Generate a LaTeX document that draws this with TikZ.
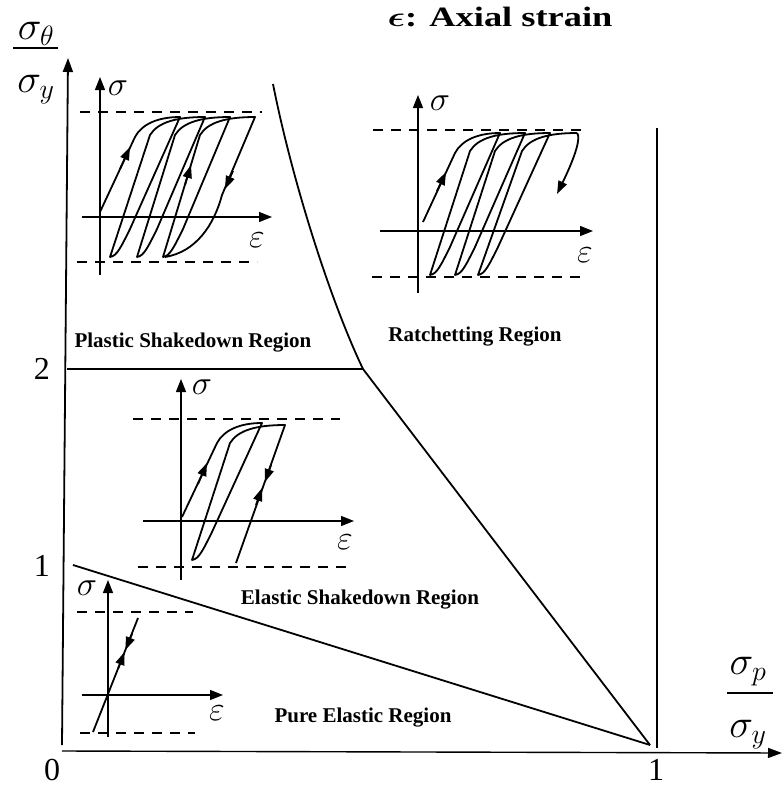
\documentclass[tikz,border=0pt]{standalone}
\usepackage{fix-cm}
\usepackage{amsmath}
\usepackage{fontspec}
\setmainfont{Liberation Serif}
\usetikzlibrary{arrows.meta}

% one loading / unloading branch of a hysteresis loop, ending at the given point
\newcommand{\loadto}[2]{-- (#1-55,#2+18) .. controls (#1-47,#2+5) and (#1-28,#2) .. (#1,#2)}
\newcommand{\unloadto}[2]{-- (#1+20,#2-28) .. controls (#1+11,#2-10) and (#1+7,#2-1) .. (#1,#2)}

\begin{document}
\begin{tikzpicture}[x=1pt, y=-1pt,
  bound/.style={line width=1.8pt},
  axis/.style={line width=1.2pt, -{Triangle[length=13pt,width=10pt]}},
  limit/.style={line width=1.6pt, dash pattern=on 10pt off 8pt},
  loop/.style={line width=1.8pt, line join=round},
  headarr/.style={line width=1.8pt, -{Triangle[length=13pt,width=9pt]}},
  region/.style={font=\fontsize{21}{24}\selectfont\bfseries},
  num/.style={font=\fontsize{32}{34}\selectfont},
  sym/.style={font=\fontsize{34}{36}\selectfont},
  big/.style={font=\fontsize{40}{44}\selectfont},
]
  \useasboundingbox (0,0) rectangle (782,788);

  % Main axes
  \draw[line width=1.8pt, -{Triangle[length=14pt,width=10pt]}] (62,745) -- (68,58);
  \draw[line width=1.4pt, -{Triangle[length=14pt,width=10pt]}] (62,751) -- (782,753);

  % Region boundaries
  \coordinate (top) at (273,84);
  \coordinate (knee) at (363,369);
  \coordinate (apex) at (650,745);
  \coordinate (one) at (73,565);
  \draw[bound] (top) .. controls (292,180) and (330,300) .. (knee) -- (apex);
  \draw[bound] (67,369) -- (knee);
  \draw[bound] (one) -- (apex);
  \draw[bound] (657,128) -- (657,748);

  % Tick labels
  \node[num] (x0) at (52,770) {0};
  \node[num] (x1) at (656,770) {1};
  \node[num] (y1) at (42,566) {1};
  \node[num] (y2) at (42,369) {2};

  % Axis labels
  \node[big] (sth) at (36,34) {$\sigma_\theta$};
  \node[big] (syl) at (36,90) {$\sigma_y$};
  \draw[line width=1.2pt] (13,48) -- (58,48);
  \node[big] (sp) at (748,672) {$\sigma_p$};
  \node[big] (syr) at (748,735) {$\sigma_y$};
  \draw[line width=1.2pt] (727,693) -- (773,693);
  \node[font=\fontsize{28}{30}\selectfont\bfseries] (title) at (500,17)
    {\scalebox{1.3}[1]{$\boldsymbol{\epsilon}$: Axial strain}};

  % Region names
  \node[region] (plastic) at (193,343) {Plastic Shakedown Region};
  \node[region] (ratchet) at (475,337) {Ratchetting Region};
  \node[region] (elastic) at (360,600) {Elastic Shakedown Region};
  \node[region] (pure) at (363,718) {Pure Elastic Region};

  % Inset: plastic shakedown
  \draw[limit] (80,112) -- (262,112);
  \draw[limit] (77,262) -- (257,262);
  \draw[axis] (100,275) -- (100,77);
  \draw[axis] (82,217) -- (272,217);
  \node[sym] (ps) at (118,88) {$\sigma$};
  \node[sym] (pe) at (257,240) {$\varepsilon$};
  \draw[loop] (100,212) -- (135,137) .. controls (142,124) and (158,117) .. (180,117)
    \unloadto{110}{257} \loadto{205}{117} \unloadto{137}{257}
    \loadto{230}{117} \unloadto{163}{257} \loadto{255}{117} -- (222,195) .. controls (214,225) and (196,252) .. (165,257);
  \draw[headarr] (233,171) -- (225,189);
  \draw[headarr] (120,169) -- (130,147);
  \draw[headarr] (185,185) -- (191,165);

  % Inset: ratchetting
  \draw[limit] (373,130) -- (587,130);
  \draw[limit] (372,277) -- (585,277);
  \draw[axis] (418,293) -- (418,95);
  \draw[axis] (380,231) -- (593,231);
  \node[sym] (rs) at (440,103) {$\sigma$};
  \node[sym] (re) at (585,255) {$\varepsilon$};
  \draw[loop] (423,222) -- (455,153) .. controls (462,140) and (478,133) .. (500,133)
    \unloadto{430}{275} \loadto{525}{133} \unloadto{455}{275}
    \loadto{550}{133} \unloadto{478}{275} \loadto{577}{133};
  \draw[headarr] (577,133) .. controls (581,137) and (576,155) .. (557,194);
  \draw[headarr] (437,191) -- (446,172);

  % Inset: elastic shakedown
  \draw[limit] (133,419) -- (340,419);
  \draw[limit] (138,567) -- (348,567);
  \draw[axis] (181,580) -- (181,379);
  \draw[axis] (143,521) -- (354,521);
  \node[sym] (es) at (202,387) {$\sigma$};
  \node[sym] (ee) at (345,542) {$\varepsilon$};
  \draw[loop] (182,517) -- (217,443) .. controls (224,430) and (240,423) .. (262,423)
    \unloadto{192}{560} \loadto{285}{425} -- (236,563);
  \draw[headarr] (198,484) -- (207,463);
  \draw[headarr] (256,505) -- (262,488);
  \draw[headarr] (271,465) -- (265,482);

  % Inset: pure elastic
  \draw[limit] (77,612) -- (193,612);
  \draw[limit] (80,733) -- (195,733);
  \draw[axis] (108,737) -- (108,580);
  \draw[axis] (82,695) -- (223,695);
  \node[sym] (us) at (87,588) {$\sigma$};
  \node[sym] (ue) at (217,713) {$\varepsilon$};
  \draw[loop] (93,732) -- (138,618);
  \draw[headarr] (118,669) -- (124.6,652);
  \draw[headarr] (132,634) -- (125.4,650);
\end{tikzpicture}
\end{document}
